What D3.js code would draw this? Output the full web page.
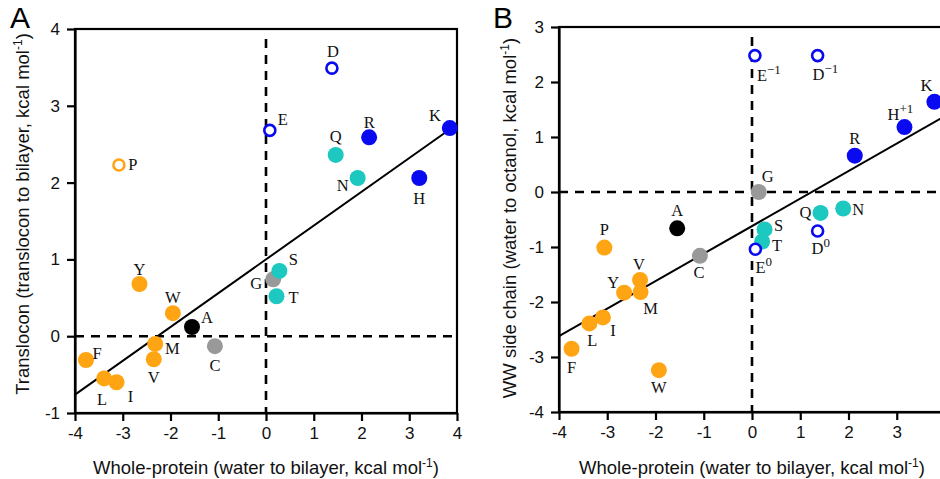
<!DOCTYPE html>
<html>
<head>
<meta charset="utf-8">
<script src="https://cdn.jsdelivr.net/npm/d3@7"></script>
<style>
  body { margin: 0; background: #fff; }
  svg { display: block; }
  .tick text { font-family: "Liberation Sans", Arial, sans-serif; font-size: 17px; fill: #111; }
  .res { font-family: "Liberation Serif", "Times New Roman", serif; font-size: 16.5px; fill: #111; }
  .title { font-family: "Liberation Sans", Arial, sans-serif; font-size: 18.5px; fill: #111; }
</style>
</head>
<body>
<svg id="fig" width="940" height="479"></svg>
<script>
// ---- dados: painel A (whole-protein vs translocon) ----
const residuesA = ["F","L","I","Y","W","M","V","P","A","C","G","T","S","Q","N","D","E","R","H","K"];
const wholeA    = [-3.77,-3.39,-3.13,-2.65,-1.95,-2.32,-2.35,-3.08,-1.55,-1.07,0.15,0.22,0.28,1.46,1.92,1.38,0.08,2.16,3.21,3.85];
const transA    = [-0.31,-0.55,-0.60,0.68,0.30,-0.10,-0.30,2.23,0.12,-0.13,0.74,0.52,0.85,2.36,2.06,3.49,2.68,2.59,2.06,2.71];
const groupA    = ["hyd","hyd","hyd","hyd","hyd","hyd","hyd","proOpen","ala","small","small","polar","polar","polar","polar","acid","acid","base","base","base"];
const fitA      = [1.0, 0.44];   // intercept, slope

// ---- dados: painel B (whole-protein vs WW octanol) ----
const residuesB = ["F","L","I","Y","W","M","V","P","A","C","G","T","S","Q","N","D","E","D","E","R","H","K"];
const supB      = ["","","","","","","","","","","","","","","","0","0","\u22121","\u22121","","+1",""];
const wholeB    = [-3.74,-3.37,-3.09,-2.65,-1.93,-2.31,-2.32,-3.06,-1.55,-1.08,0.14,0.21,0.26,1.42,1.89,1.36,0.07,1.36,0.06,2.13,3.16,3.78];
const wwB       = [-2.85,-2.39,-2.28,-1.83,-3.24,-1.82,-1.60,-1.01,-0.66,-1.16,0.00,-0.90,-0.68,-0.38,-0.30,-0.71,-1.04,2.48,2.48,0.66,1.18,1.64];
const groupB    = ["hyd","hyd","hyd","hyd","hyd","hyd","hyd","hyd","ala","small","small","polar","polar","polar","polar","acid","acid","acid","acid","base","base","base"];
const fitB      = [-0.62, 0.50];

const ticksX  = [-4,-3,-2,-1,0,1,2,3,4];
const ticksYA = [-1,0,1,2,3,4];
const ticksYB = [-4,-3,-2,-1,0,1,2,3];

// posição dos rótulos (dx, dy a partir do centro do ponto)
const offA = [[11,-7],[-2,21],[14,14],[0,-14],[0,-16],[17,5],[0,18],[14,0],[15,-9],[0,19],
              [-17,4],[17,1],[14,-11],[0,-18],[-15,8],[1,-17],[13,-11],[0,-15],[0,21],[-15,-13]];
const offB = [[0,19],[3,17],[10,13],[-11,-10],[0,17],[10,16],[-1,-16],[0,-18],[0,-18],[-1,17],
              [9,-16],[15,4],[14,-4],[-15,0],[15,1],[-1,17],[5,18],[0,18],[7,19],[0,-17],[-12,-13],[-8,-16]];

const estilo = {
  hyd:     {fill: "#FFA514", stroke: "none", r: 8},
  proOpen: {fill: "#fff", stroke: "#FFA514", r: 5.5},
  ala:     {fill: "#000", stroke: "none", r: 8},
  small:   {fill: "#999", stroke: "none", r: 8},
  polar:   {fill: "#1CC8C0", stroke: "none", r: 8},
  acid:    {fill: "#fff", stroke: "#0A0AF0", r: 5.5},
  base:    {fill: "#0A0AF0", stroke: "none", r: 8}
};

const svg = d3.select("#fig");

function painel(cfg) {
  const x = d3.scaleLinear().domain([-4, 4]).range(cfg.xr);
  const y = d3.scaleLinear().domain(cfg.yd).range(cfg.yr);
  const g = svg.append("g");

  // moldura
  g.append("rect")
    .attr("x", cfg.xr[0]).attr("y", cfg.yr[1])
    .attr("width", cfg.xr[1] - cfg.xr[0]).attr("height", cfg.yr[0] - cfg.yr[1])
    .attr("fill", "none").attr("stroke", "#000").attr("stroke-width", 2.2);

  // eixos
  const ax = g.append("g").attr("transform", `translate(0,${cfg.yr[0]})`)
    .call(d3.axisBottom(x).tickValues(ticksX).tickSize(8).tickSizeOuter(0).tickPadding(6).tickFormat(d3.format("d")));
  const ay = g.append("g").attr("transform", `translate(${cfg.xr[0]},0)`)
    .call(d3.axisLeft(y).tickValues(cfg.yt).tickSize(8).tickSizeOuter(0).tickPadding(7).tickFormat(d3.format("d")));
  [ax, ay].forEach(a => {
    a.select(".domain").attr("stroke-width", 2.2);
    a.selectAll(".tick line").attr("stroke-width", 2.2);
    a.selectAll(".tick text").text(d => d < 0 ? "-" + Math.abs(d) : d);
  });

  // linhas tracejadas em zero
  g.append("line").attr("x1", x(0)).attr("x2", x(0)).attr("y1", cfg.yr[1] + 10).attr("y2", cfg.yr[0])
    .attr("stroke", "#000").attr("stroke-width", 2.6).attr("stroke-dasharray", "9,7");
  g.append("line").attr("x1", cfg.xr[0]).attr("x2", cfg.xr[1]).attr("y1", y(0)).attr("y2", y(0))
    .attr("stroke", "#000").attr("stroke-width", 2.6).attr("stroke-dasharray", "9,7");

  // reta de regressão
  g.append("line")
    .attr("x1", x(-4)).attr("y1", y(cfg.fit[0] + cfg.fit[1] * -4))
    .attr("x2", x(4)).attr("y2", y(cfg.fit[0] + cfg.fit[1] * 4))
    .attr("stroke", "#000").attr("stroke-width", 2);

  // pontos
  cfg.res.forEach((r, i) => {
    const s = estilo[cfg.grp[i]];
    g.append("circle")
      .attr("cx", x(cfg.xs[i])).attr("cy", y(cfg.ys[i])).attr("r", s.r)
      .attr("fill", s.fill).attr("stroke", s.stroke).attr("stroke-width", 2.6);
  });

  // rótulos
  cfg.res.forEach((r, i) => {
    const o = cfg.off[i];
    const sup = cfg.sup ? cfg.sup[i] : "";
    const t = g.append("text").attr("class", "res")
      .attr("y", y(cfg.ys[i]) + o[1]).attr("dominant-baseline", "central");
    if (sup) {
      t.attr("x", x(cfg.xs[i]) + o[0] - 5).attr("text-anchor", "start");
      t.append("tspan").text(r);
      t.append("tspan").attr("dy", -6).attr("font-size", 13).text(sup);
    } else {
      t.attr("x", x(cfg.xs[i]) + o[0]).attr("text-anchor", "middle").text(r);
    }
  });

  // títulos dos eixos
  const tx = g.append("text").attr("class", "title").attr("text-anchor", "middle")
    .attr("x", x(0)).attr("y", 474);
  tx.append("tspan").text("Whole-protein (water to bilayer, kcal mol");
  tx.append("tspan").attr("dy", -7).attr("font-size", 12).text("-1");
  tx.append("tspan").attr("dy", 7).text(")");

  const ty = g.append("text").attr("class", "title").attr("text-anchor", "middle")
    .attr("transform", `translate(${cfg.ytX},${cfg.ytY}) rotate(-90)`);
  ty.append("tspan").text(cfg.ytitle);
  ty.append("tspan").attr("dy", -7).attr("font-size", 12).text("-1");
  ty.append("tspan").attr("dy", 7).text(")");

  // letra do painel
  svg.append("text").attr("x", cfg.lx).attr("y", 28)
    .style("font-family", "Liberation Sans, Arial, sans-serif").style("font-size", "30px")
    .text(cfg.letter);
}

painel({
  letter: "A", lx: 10,
  xr: [75, 457], yd: [-1, 4], yr: [413, 29], yt: ticksYA,
  res: residuesA, xs: wholeA, ys: transA, grp: groupA, off: offA, fit: fitA,
  ytitle: "Translocon (translocon to bilayer, kcal mol", ytX: 29, ytY: 214
});

painel({
  letter: "B", lx: 493,
  xr: [559, 945], yd: [-4, 3], yr: [412, 27], yt: ticksYB,
  res: residuesB, sup: supB, xs: wholeB, ys: wwB, grp: groupB, off: offB, fit: fitB,
  ytitle: "WW side chain (water to octanol, kcal mol", ytX: 516, ytY: 218
});
</script>
</body>
</html>
